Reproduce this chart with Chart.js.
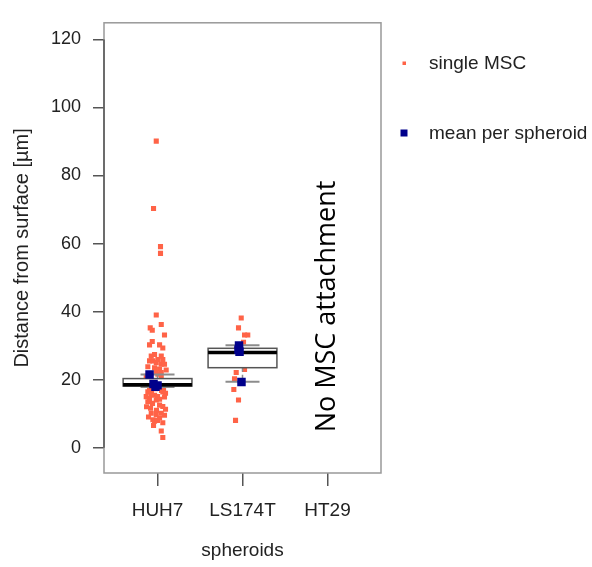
<!DOCTYPE html>
<html>
<head>
<meta charset="utf-8">
<script src="https://cdn.jsdelivr.net/npm/chart.js@4"></script>
<style>
  html, body { margin: 0; padding: 0; background: #fff; }
</style>
</head>
<body>
<canvas id="myChart" width="592" height="567"></canvas>
<script>
// categories and axis ticks
const groups = ['HUH7', 'LS174T', 'HT29'];
const yTicks = [0, 20, 40, 60, 80, 100, 120];

// single MSC distances (x = group position incl. jitter)
const huhJitter = [0.985, 0.953, 1.035, 1.035,
  0.985, 1.044, 0.914, 0.938, 1.082, 0.938, 0.906, 1.024, 1.062, 0.926, 0.965, 1.044,
  0.906, 0.945, 1.004, 1.062, 0.985, 1.044, 1.082, 1.024, 0.965, 0.985, 1.044,
  1.004, 1.044, 1.071, 0.886, 1.102, 0.867,
  0.906, 0.976, 1.047, 0.886, 1.062, 0.965, 0.929, 1.0, 1.082, 0.906, 0.985, 0.886,
  0.941, 1.024, 1.062, 0.918, 0.988, 0.926, 0.985, 1.044, 0.945, 1.024, 1.062, 0.965,
  1.044, 1.062, 0.871, 1.024, 1.094, 0.894, 1.0, 1.082, 0.953, 0.867, 1.094];
const huhDist = [90.1, 70.3, 59.1, 57.1,
  39.0, 36.2, 35.2, 34.5, 33.1, 31.2, 30.2, 30.2, 29.3, 26.9, 27.4, 26.9,
  25.5, 25.5, 25.9, 25.9, 25.0, 24.5, 24.5, 23.1, 23.5, 22.1, 22.1,
  21.6, 20.7, 17.2, 23.8, 22.8, 21.0,
  17.0, 17.3, 16.8, 16.4, 16.4, 15.4, 15.9, 15.0, 14.9, 14.4, 14.0, 13.5,
  13.0, 12.5, 12.1, 11.6, 11.0, 10.1, 9.7, 10.1, 8.2, 8.7, 7.3, 7.8,
  4.9, 3.0, 12.0, 14.2, 11.3, 9.0, 8.0, 9.5, 6.5, 15.0, 16.0];

const lsJitter = [1.985, 1.953, 2.024, 2.062, 2.024, 1.945, 1.926, 2.024, 1.926, 1.906,
  1.898, 1.953, 1.918, 1.965, 1.929, 2.012];
const lsDist = [38.1, 35.2, 33.1, 33.1, 27.4, 25.9, 25.0, 23.0, 22.1, 20.2,
  17.1, 14.0, 8.0, 29.5, 28.8, 31.0];

// mean per spheroid
const meanJitter = [0.906, 0.953, 1.0, 0.976, 1.959, 1.953, 1.965, 1.988];
const meanDist = [21.5, 18.7, 18.3, 17.9, 30.0, 28.8, 28.2, 19.3];

// boxplot of the spheroid means (HT29 has none)
const boxMin = [17.8, 19.4, null];
const boxQ1 = [18.1, 23.5, null];
const boxMed = [18.5, 28.0, null];
const boxQ3 = [20.3, 29.2, null];
const boxMax = [21.5, 30.1, null];

const legendLabels = ['single MSC', 'mean per spheroid'];
const noDataText = 'No MSC attachment';

const redCol = '#ff6347';
const blueCol = '#00008b';

Chart.defaults.font.family = '"Liberation Sans", Arial, sans-serif';
Chart.defaults.color = '#222';

const toPts = (xs, ys) => xs.map((v, i) => ({ x: v, y: ys[i] }));

const boxPlugin = {
  id: 'boxes',
  afterDatasetDraw(chart, args) {
    if (args.index !== 1) return;
    const { ctx, scales: { x, y } } = chart;
    const line = (x1, y1, x2, y2) => {
      ctx.beginPath(); ctx.moveTo(x1, y1); ctx.lineTo(x2, y2); ctx.stroke();
    };
    ctx.save();
    groups.forEach((g, i) => {
      if (boxMed[i] == null) return;
      const cx = x.getPixelForValue(i + 1);
      const hw = x.getPixelForValue(i + 1 + 0.405) - cx;
      const cw = x.getPixelForValue(i + 1 + 0.2) - cx;
      const yMin = y.getPixelForValue(boxMin[i]);
      const yQ1 = y.getPixelForValue(boxQ1[i]);
      const yMed = y.getPixelForValue(boxMed[i]);
      const yQ3 = y.getPixelForValue(boxQ3[i]);
      const yMax = y.getPixelForValue(boxMax[i]);
      // whiskers
      ctx.strokeStyle = '#8c8c8c';
      ctx.lineWidth = 1.5;
      ctx.setLineDash([4, 3]);
      line(cx, yMax, cx, yQ3);
      line(cx, yQ1, cx, yMin);
      ctx.setLineDash([]);
      ctx.lineWidth = 2;
      line(cx - cw, yMax, cx + cw, yMax);
      line(cx - cw, yMin, cx + cw, yMin);
      // box
      ctx.fillStyle = '#fff';
      ctx.fillRect(cx - hw, yQ3, 2 * hw, yQ1 - yQ3);
      ctx.strokeStyle = '#555';
      ctx.lineWidth = 1.5;
      ctx.strokeRect(cx - hw, yQ3, 2 * hw, yQ1 - yQ3);
      // median
      ctx.strokeStyle = '#000';
      ctx.lineWidth = 3.5;
      line(cx - hw, yMed, cx + hw, yMed);
    });
    ctx.restore();
  },
  afterDraw(chart) {
    const { ctx, chartArea: a, scales: { x, y } } = chart;
    ctx.save();
    // frame
    ctx.strokeStyle = '#999';
    ctx.lineWidth = 1.5;
    ctx.strokeRect(a.left, a.top, a.right - a.left, a.bottom - a.top);
    // y axis line from first to last tick
    ctx.strokeStyle = '#555';
    ctx.beginPath();
    ctx.moveTo(a.left, y.getPixelForValue(yTicks[0]));
    ctx.lineTo(a.left, y.getPixelForValue(yTicks[yTicks.length - 1]));
    ctx.stroke();

    // legend
    ctx.font = '19px "Liberation Sans", Arial, sans-serif';
    ctx.textBaseline = 'middle';
    ctx.fillStyle = redCol;
    ctx.fillRect(402.5, 61.5, 3.5, 3.5);
    ctx.fillStyle = blueCol;
    ctx.fillRect(400.5, 129.5, 7, 7);
    ctx.fillStyle = '#222';
    ctx.fillText(legendLabels[0], 429, 64);
    ctx.fillText(legendLabels[1], 429, 134);

    // HT29 note
    const tx = x.getPixelForValue(3);
    const ty = y.getPixelForValue(41.5);
    ctx.translate(tx, ty);
    ctx.rotate(-Math.PI / 2);
    ctx.font = '27px "Open Sans", sans-serif';
    ctx.textAlign = 'center';
    ctx.textBaseline = 'middle';
    ctx.fillStyle = '#000';
    ctx.fillText(noDataText, 0, 0);
    ctx.restore();
  }
};

new Chart(document.getElementById('myChart'), {
  type: 'scatter',
  data: {
    datasets: [{
      label: legendLabels[1],
      data: toPts(meanJitter, meanDist),
      backgroundColor: blueCol,
      borderWidth: 0,
      pointStyle: 'rect',
      pointRadius: 6,
      order: 1
    }, {
      label: legendLabels[0],
      data: toPts(huhJitter, huhDist).concat(toPts(lsJitter, lsDist)),
      backgroundColor: redCol,
      borderWidth: 0,
      pointStyle: 'rect',
      pointRadius: 3.6,
      order: 2
    }]
  },
  options: {
    responsive: false,
    animation: false,
    layout: { padding: { left: 0, right: 211, top: 12, bottom: 0 } },
    plugins: {
      legend: { display: false },
      tooltip: { enabled: false }
    },
    scales: {
      x: {
        type: 'linear',
        min: 0.37,
        max: 3.63,
        border: { display: false },
        grid: { drawOnChartArea: false, drawTicks: true, tickLength: 13, color: '#555', lineWidth: 1.5 },
        afterBuildTicks: (s) => { s.ticks = groups.map((g, i) => ({ value: i + 1 })); },
        afterFit: (s) => { s.height = 94; },
        ticks: {
          padding: 13,
          font: { size: 19 },
          color: '#222',
          callback: (v) => groups[v - 1]
        },
        title: {
          display: true,
          text: 'spheroids',
          font: { size: 19 },
          color: '#222',
          padding: { top: 0, bottom: 5 }
        }
      },
      y: {
        min: -7.46,
        max: 124.9,
        border: { display: false },
        grid: { drawOnChartArea: false, drawTicks: true, tickLength: 11, color: '#555', lineWidth: 1.5 },
        afterBuildTicks: (s) => { s.ticks = yTicks.map(v => ({ value: v })); },
        afterFit: (s) => { s.width = 104; },
        ticks: {
          padding: 12,
          font: { size: 18 },
          color: '#222'
        },
        title: {
          display: true,
          text: 'Distance from surface [µm]',
          font: { size: 20 },
          color: '#222',
          padding: { top: 10, bottom: 0 }
        }
      }
    }
  },
  plugins: [boxPlugin]
});
</script>
</body>
</html>
